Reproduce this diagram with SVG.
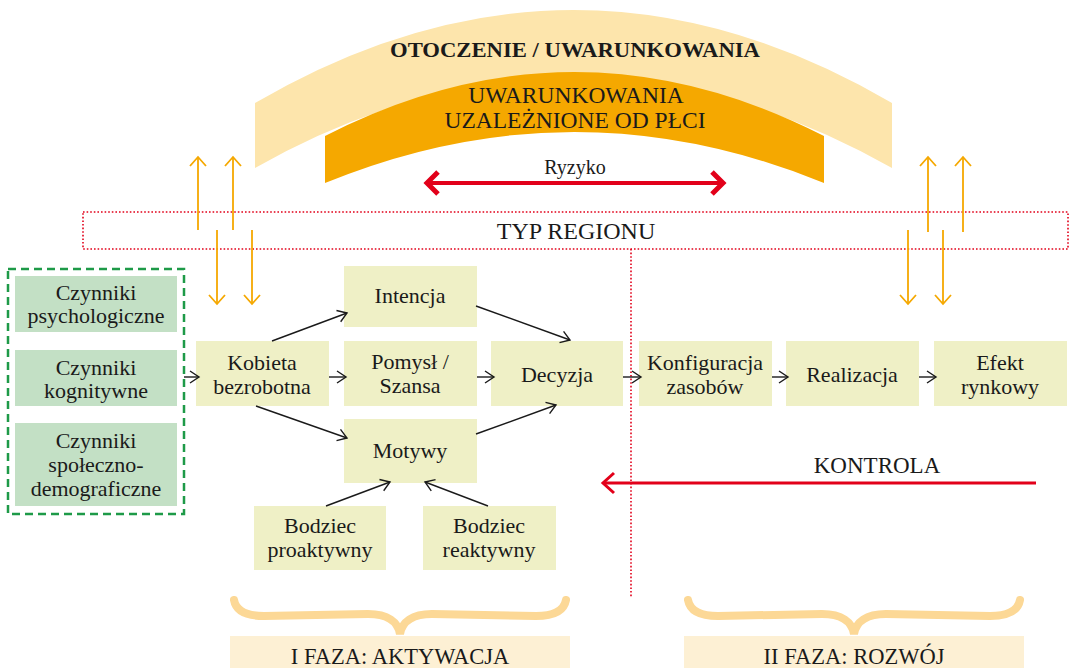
<svg xmlns="http://www.w3.org/2000/svg" width="1072" height="668" viewBox="0 0 1072 668" font-family="'Liberation Serif', 'DejaVu Serif', serif">
<defs>
<style>
text{font-family:'Liberation Serif','DejaVu Serif',serif;fill:#1a1a1a;text-anchor:middle}
.t{font-size:22px}
.box{fill:#EFF0C6}
.gbox{fill:#C3E0C5}
.ln{stroke:#1a1a1a;stroke-width:1.4;fill:none}
.or{stroke:#F5A800;stroke-width:1.8;fill:none}
.brace{stroke:#FCD896;stroke-width:8;fill:none;stroke-linecap:round}
.phase{fill:#FDF0D4}
</style>
<marker id="ah" markerUnits="userSpaceOnUse" markerWidth="14" markerHeight="14" refX="10" refY="7" orient="auto" viewBox="0 0 14 14">
<path d="M1,1 L10,7 L1,13" fill="none" stroke="#1a1a1a" stroke-width="1.4"/>
</marker>
<marker id="oh" markerUnits="userSpaceOnUse" markerWidth="18" markerHeight="18" refX="12" refY="9" orient="auto" viewBox="0 0 18 18">
<path d="M3,1 L12,9 L3,17" fill="none" stroke="#F5A800" stroke-width="1.8"/>
</marker>
</defs>
<rect width="1072" height="668" fill="#ffffff"/>

<g id="environment">
<path d="M255,103 Q574,-83 892,103 L892,168 Q574,-12 255,168 Z" fill="#FDE5AC"/>
<text x="575" y="57" style="font-size:21px;font-weight:bold" textLength="370" lengthAdjust="spacingAndGlyphs">OTOCZENIE / UWARUNKOWANIA</text>
</g>
<g id="gender">
<path d="M325,136 Q574,8 824,136 L824,183 Q574,81 325,183 Z" fill="#F5A800"/>
<text x="576" y="103" style="font-size:23.5px">UWARUNKOWANIA</text>
<text x="575" y="128" style="font-size:23.5px">UZALEŻNIONE OD PŁCI</text>
</g>
<g id="risk">
<text x="575" y="174" style="font-size:20px">Ryzyko</text>
<path d="M430,183 L720,183" stroke="#E2001A" stroke-width="4" fill="none"/>
<path d="M438,172 L427,183 L438,194 M712,172 L723,183 L712,194" stroke="#E2001A" stroke-width="5" fill="none"/>
</g>
<g id="region">
<rect x="83" y="212" width="985" height="37" fill="none" stroke="#E2001A" stroke-width="1.6" stroke-dasharray="1.6 2"/>
<text x="576" y="239" style="font-size:24px">TYP REGIONU</text>
<path d="M631,249 L631,598" stroke="#E2001A" stroke-width="1.6" stroke-dasharray="1.6 2" fill="none"/>
</g>

<g id="factors">
<rect x="8" y="269" width="176" height="245" fill="none" stroke="#1E9A48" stroke-width="2.5" stroke-dasharray="8 5"/>
<rect class="gbox" x="15" y="276" width="162" height="56"/>
<text x="96" y="300" class="t">Czynniki</text>
<text x="96" y="323" class="t">psychologiczne</text>
<rect class="gbox" x="15" y="350" width="162" height="56"/>
<text x="96" y="375" class="t">Czynniki</text>
<text x="96" y="398" class="t">kognitywne</text>
<rect class="gbox" x="15" y="423" width="162" height="83"/>
<text x="96" y="448" class="t">Czynniki</text>
<text x="96" y="472" class="t">społeczno-</text>
<text x="96" y="496" class="t">demograficzne</text>
</g>

<g id="kobieta"><rect class="box" x="196" y="341" width="133" height="65"/><text x="262" y="370" class="t">Kobieta</text><text x="262" y="394" class="t">bezrobotna</text></g>
<g id="intencja"><rect class="box" x="344" y="266" width="133" height="61"/><text x="410" y="303" class="t">Intencja</text></g>
<g id="pomysl"><rect class="box" x="344" y="341" width="133" height="65"/><text x="410" y="369" class="t">Pomysł /</text><text x="410" y="393" class="t">Szansa</text></g>
<g id="motywy"><rect class="box" x="344" y="419" width="133" height="64"/><text x="410" y="458" class="t">Motywy</text></g>
<g id="decyzja"><rect class="box" x="491" y="341" width="132" height="65"/><text x="557" y="382" class="t">Decyzja</text></g>
<g id="proaktywny"><rect class="box" x="254" y="506" width="132" height="64"/><text x="320" y="533" class="t">Bodziec</text><text x="320" y="557" class="t">proaktywny</text></g>
<g id="reaktywny"><rect class="box" x="423" y="506" width="133" height="64"/><text x="489" y="533" class="t">Bodziec</text><text x="489" y="557" class="t">reaktywny</text></g>
<g id="konfiguracja"><rect class="box" x="639" y="341" width="133" height="65"/><text x="705" y="370" class="t">Konfiguracja</text><text x="705" y="394" class="t">zasobów</text></g>
<g id="realizacja"><rect class="box" x="786" y="341" width="133" height="65"/><text x="852" y="382" class="t">Realizacja</text></g>
<g id="efekt"><rect class="box" x="934" y="341" width="133" height="65"/><text x="1000" y="370" class="t">Efekt</text><text x="1000" y="394" class="t">rynkowy</text></g>

<g id="kontrola">
<text x="877" y="473" style="font-size:23px">KONTROLA</text>
<path d="M1036,483 L604,483" stroke="#E2001A" stroke-width="2.8" fill="none"/>
<path d="M614,473 L603,483 L614,493" stroke="#E2001A" stroke-width="3" fill="none"/>
</g>

<g id="connectors">
<path class="ln" d="M184,377 L199,377" marker-end="url(#ah)"/>
<path class="ln" d="M272,341 L347,313" marker-end="url(#ah)"/>
<path class="ln" d="M329,377 L346,377" marker-end="url(#ah)"/>
<path class="ln" d="M256,406 L347,438" marker-end="url(#ah)"/>
<path class="ln" d="M476,306 L570,340" marker-end="url(#ah)"/>
<path class="ln" d="M477,377 L494,377" marker-end="url(#ah)"/>
<path class="ln" d="M476,434 L556,405" marker-end="url(#ah)"/>
<path class="ln" d="M623,377 L641,377" marker-end="url(#ah)"/>
<path class="ln" d="M772,377 L788,377" marker-end="url(#ah)"/>
<path class="ln" d="M919,377 L936,377" marker-end="url(#ah)"/>
<path class="ln" d="M326,506 L390,482" marker-end="url(#ah)"/>
<path class="ln" d="M488,506 L425,482" marker-end="url(#ah)"/>
<path class="or" d="M198,230 L198,157" marker-end="url(#oh)"/>
<path class="or" d="M233,230 L233,157" marker-end="url(#oh)"/>
<path class="or" d="M217,230 L217,304" marker-end="url(#oh)"/>
<path class="or" d="M252,230 L252,304" marker-end="url(#oh)"/>
<path class="or" d="M928,232 L928,157" marker-end="url(#oh)"/>
<path class="or" d="M963,232 L963,157" marker-end="url(#oh)"/>
<path class="or" d="M908,230 L908,304" marker-end="url(#oh)"/>
<path class="or" d="M943,230 L943,304" marker-end="url(#oh)"/>
</g>

<g id="phase1">
<path class="brace" d="M234,600 C236,611 246,616 264,616 L368,614 C388,614 398,622 400,634 C402,622 412,614 432,614 L536,616 C554,616 564,611 566,600"/>
<rect class="phase" x="230" y="636" width="340" height="32"/>
<text x="400" y="664" style="font-size:22.5px">I FAZA: AKTYWACJA</text>
</g>
<g id="phase2">
<path class="brace" d="M688,600 C690,611 700,616 718,616 L822,614 C842,614 852,622 854,634 C856,622 866,614 886,614 L990,616 C1008,616 1018,611 1020,600"/>
<rect class="phase" x="684" y="636" width="340" height="32"/>
<text x="854" y="664" style="font-size:22.5px">II FAZA: ROZWÓJ</text>
</g>
</svg>
